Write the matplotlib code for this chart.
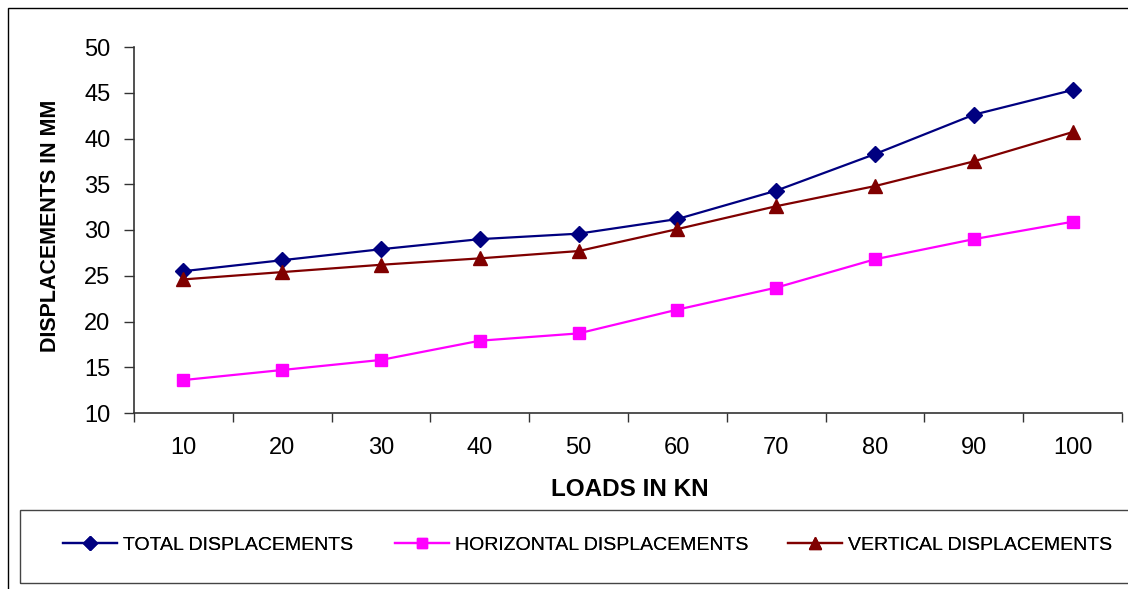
import numpy as np
import matplotlib
matplotlib.use("Agg")
import matplotlib.pyplot as plt
from matplotlib.patches import Rectangle

loads = ["10", "20", "30", "40", "50", "60", "70", "80", "90", "100"]
total = [25.5, 26.7, 27.9, 29.0, 29.6, 31.2, 34.3, 38.3, 42.6, 45.3]
horizontal = [13.6, 14.7, 15.8, 17.9, 18.7, 21.3, 23.7, 26.8, 29.0, 30.9]
vertical = [24.6, 25.4, 26.2, 26.9, 27.7, 30.1, 32.6, 34.8, 37.5, 40.7]
series_names = ["TOTAL DISPLACEMENTS", "HORIZONTAL DISPLACEMENTS", "VERTICAL DISPLACEMENTS"]
yticks = [10, 15, 20, 25, 30, 35, 40, 45, 50]

plt.rcParams['font.family'] = ['Liberation Sans', 'DejaVu Sans']

W, H = 1128, 589
fig = plt.figure(figsize=(W / 100, H / 100), dpi=100)

# outer chart frame
fig.patches.append(Rectangle((8 / W, -0.05), 1.2, 1 - 8 / H + 0.05, transform=fig.transFigure,
                             fill=False, edgecolor='black', linewidth=1.0))

ax = fig.add_axes([134 / W, 1 - 413 / H, (1122 - 134) / W, (413 - 47) / H])
x = np.arange(len(loads))
l1, = ax.plot(x, total, color='#000080', marker='D', markersize=8, linewidth=1.6)
l2, = ax.plot(x, horizontal, color='#FF00FF', marker='s', markersize=8, linewidth=1.6)
l3, = ax.plot(x, vertical, color='#800000', marker='^', markersize=10, linewidth=1.6)

ax.set_xlim(-0.5, len(loads) - 0.5)
ax.set_ylim(10, 50)
ax.set_yticks(yticks)
ax.set_yticklabels([str(v) for v in yticks], fontsize=17)
ax.set_xticks(np.arange(-0.5, len(loads), 1))
ax.set_xticklabels([])
ax.set_xticks(x, minor=True)
ax.set_xticklabels(loads, minor=True, fontsize=17)
ax.tick_params(axis='x', which='major', direction='out', length=6.5, width=1, color='#333333')
ax.tick_params(axis='x', which='minor', length=0, pad=17)
ax.tick_params(axis='y', direction='out', length=7, width=1, color='#333333', pad=10)
for s in ['top', 'right']:
    ax.spines[s].set_visible(False)
for s in ['left', 'bottom']:
    ax.spines[s].set_color('#333333')
    ax.spines[s].set_linewidth(1.2)

fig.text(630 / W, 1 - 490 / H, "LOADS IN KN", ha='center', va='center', fontsize=17.5, fontweight='bold')
fig.text(51 / W, 1 - 226 / H, "DISPLACEMENTS IN MM", ha='center', va='center', rotation=90,
         fontsize=15.5, fontweight='bold')

# legend box
fig.patches.append(Rectangle((20 / W, 1 - 583 / H), 1.2, (583 - 510) / H, transform=fig.transFigure,
                             fill=False, edgecolor='#444444', linewidth=1.0))
for handle, name, x0 in zip([l1, l2, l3], series_names, [63, 395, 788]):
    leg = fig.legend([handle], [name], loc='center left', bbox_to_anchor=(x0 / W, 1 - 545 / H),
                     frameon=False, fontsize=14, handlelength=2.8, handletextpad=0.3,
                     borderpad=0, borderaxespad=0, markerscale=0.85)
    fig.add_artist(leg)

fig.savefig("out.png", dpi=100)
